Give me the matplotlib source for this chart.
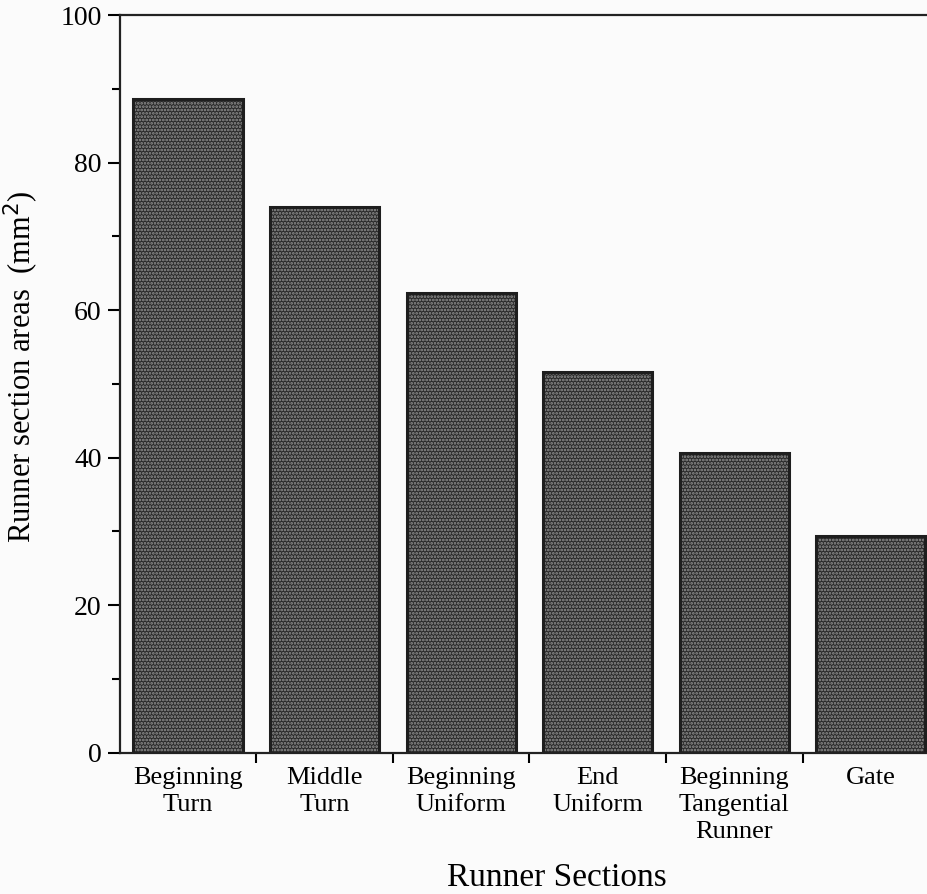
"""
Runner section areas along the runner, from the turn to the gate.
"""
import matplotlib
matplotlib.use("Agg")
from matplotlib import pyplot as plt
from matplotlib.ticker import MultipleLocator, FixedLocator

sections = [
    "Beginning\nTurn",
    "Middle\nTurn",
    "Beginning\nUniform",
    "End\nUniform",
    "Beginning\nTangential\nRunner",
    "Gate",
]
areas = [88.6, 74.0, 62.4, 51.6, 40.6, 29.4]


def main():
    plt.rcParams["font.family"] = ["Liberation Serif", "DejaVu Serif"]
    plt.rcParams["hatch.linewidth"] = 1.3

    fig = plt.figure(figsize=(9.28, 8.94), dpi=100)
    ax = fig.add_axes([0.129, 0.158, 0.883, 0.825])

    pos = list(range(len(sections)))
    # stippled fill, then the dark outline on top
    ax.bar(pos, areas, width=0.8, color="#2a2a2a", hatch=".....",
           edgecolor="#939393", linewidth=0)
    ax.bar(pos, areas, width=0.8, fill=False, edgecolor="#1e1e1e",
           linewidth=2.2)

    ax.set_xlim(-0.5, len(sections) - 0.5)
    ax.set_ylim(0, 100)

    ax.yaxis.set_major_locator(MultipleLocator(20))
    ax.yaxis.set_minor_locator(MultipleLocator(10))
    ax.tick_params(axis="y", which="major", length=9, width=1.5,
                   labelsize=20, direction="out", pad=4)
    ax.tick_params(axis="y", which="minor", length=6, width=1.5,
                   direction="out")

    # ticks between categories, labels under the bars
    ax.xaxis.set_major_locator(FixedLocator([p + 0.5 for p in pos[:-1]]))
    ax.xaxis.set_minor_locator(FixedLocator(pos))
    ax.set_xticklabels([], minor=False)
    ax.set_xticklabels(sections, minor=True, fontsize=19, linespacing=1.3)
    ax.tick_params(axis="x", which="major", length=7, width=1.5,
                   direction="out")
    ax.tick_params(axis="x", which="minor", length=0, pad=10)

    for s in ax.spines.values():
        s.set_linewidth(1.6)
        s.set_color("#222222")

    ax.set_ylabel("Runner section areas  (mm$^2$)", fontsize=22)
    ax.yaxis.set_label_coords(-0.096, 0.523)
    ax.set_xlabel("Runner Sections", fontsize=24)
    ax.xaxis.set_label_coords(0.534, -0.149)

    fig.patch.set_facecolor("#fbfbfb")
    ax.set_facecolor("#fbfbfb")
    fig.savefig("out.png", dpi=100, facecolor=fig.get_facecolor())


if __name__ == "__main__":
    main()
